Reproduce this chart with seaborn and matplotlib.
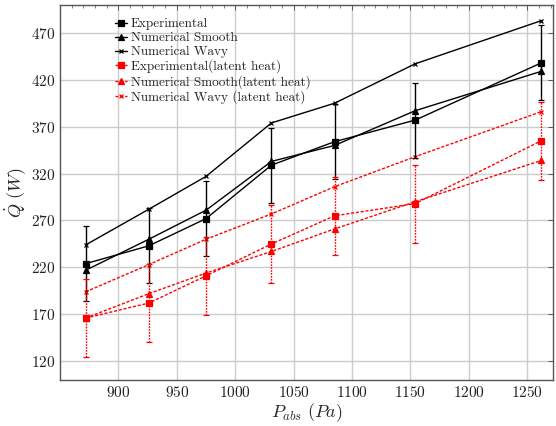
import numpy as np
import pandas as pd
import matplotlib
matplotlib.use("Agg")
import matplotlib.pyplot as plt
import seaborn as sns
from matplotlib.ticker import MultipleLocator, FixedLocator, StrMethodFormatter

# ---- data ----
pressure = [872, 926, 975, 1031, 1085, 1154, 1262]
experimental = [224, 243, 272, 329, 354, 377, 438]
numerical_smooth = [217, 250, 281, 333, 350, 387, 429]
numerical_wavy = [244, 282, 317, 374, 395, 437, 483]
experimental_latent = [166, 182, 211, 245, 275, 288, 355]
numerical_smooth_latent = [166, 192, 214, 237, 261, 290, 334]
numerical_wavy_latent = [194, 223, 250, 277, 306, 338, 386]
experimental_err = [40, 40, 40, 40, 40, 40, 40]
experimental_latent_err = [41.5, 41.5, 41.5, 41.5, 41.5, 41.5, 41.5]

labels = ["Experimental", "Numerical Smooth", "Numerical Wavy",
          "Experimental(latent heat)", "Numerical Smooth(latent heat)",
          "Numerical Wavy (latent heat)"]
y_ticks = [120, 170, 220, 270, 320, 370, 420, 470]
x_ticks = [900, 950, 1000, 1050, 1100, 1150, 1200, 1250]

sns.set_style("whitegrid")
plt.rcParams["font.family"] = ["cmr10", "DejaVu Serif"]
plt.rcParams["mathtext.fontset"] = "cm"
plt.rcParams["axes.formatter.use_mathtext"] = True

fig = plt.figure(figsize=(5.56, 4.26), dpi=100)
ax = fig.add_axes([60 / 556, 1 - 380 / 426, 493 / 556, (380 - 4.7) / 426])

series = [
    (experimental, "black", "s", 4.5, "-"),
    (numerical_smooth, "black", "^", 3.8, "-"),
    (numerical_wavy, "black", "x", 3.2, "-"),
    (experimental_latent, "red", "s", 4.5, (0, (2.2, 1.3))),
    (numerical_smooth_latent, "red", "^", 3.8, (0, (2.2, 1.3))),
    (numerical_wavy_latent, "red", "x", 3.2, (0, (2.2, 1.3))),
]

for (vals, col, mk, ms, ls), lab in zip(series, labels):
    df = pd.DataFrame({"P": pressure, "Q": vals})
    sns.lineplot(data=df, x="P", y="Q", ax=ax, color=col, marker=mk,
                 markersize=ms, linewidth=1.0, linestyle=ls, label=lab,
                 markeredgecolor=col, markeredgewidth=0.9)

ax.errorbar(pressure, experimental, yerr=experimental_err, fmt="none",
            ecolor="black", elinewidth=1.0, capsize=2.5, capthick=0.9, zorder=3)
eb = ax.errorbar(pressure, experimental_latent, yerr=experimental_latent_err,
                 fmt="none", ecolor="red", elinewidth=1.0, capsize=2.5,
                 capthick=0.9, zorder=3)
for lc in eb[2]:
    lc.set_linestyle((0, (1.2, 0.9)))

ax.set_xlim(850, 1272)
ax.set_ylim(100, 500)
ax.xaxis.set_major_locator(FixedLocator(x_ticks))
ax.yaxis.set_major_locator(FixedLocator(y_ticks))
ax.xaxis.set_minor_locator(MultipleLocator(10))
ax.xaxis.set_major_formatter(StrMethodFormatter(r"${x:.0f}$"))
ax.yaxis.set_major_formatter(StrMethodFormatter(r"${x:.0f}$"))
ax.tick_params(axis="both", which="both", direction="in", top=True,
               right=True, labelsize=11, colors="#444444")
ax.tick_params(axis="both", which="major", length=3.5, width=0.6)
ax.tick_params(axis="x", which="minor", length=2, width=0.5)
ax.tick_params(labelcolor="#222222")
ax.grid(True, which="major", color="#cccccc", linewidth=1.0)
ax.grid(False, which="minor")
for s in ax.spines.values():
    s.set_color("#555555")
    s.set_linewidth(1.0)

ax.set_xlabel(r"$P_{abs}\ (Pa)$", fontsize=13, labelpad=1)
ax.set_ylabel(r"$\dot{Q}\ (W)$", fontsize=13, labelpad=2)

leg = ax.legend(loc="upper left", bbox_to_anchor=(0.095, 0.985), frameon=False,
                fontsize=9.5, handlelength=0.9, handletextpad=0.3,
                labelspacing=0.12, borderaxespad=0.2)

fig.savefig("out.png", dpi=100)
